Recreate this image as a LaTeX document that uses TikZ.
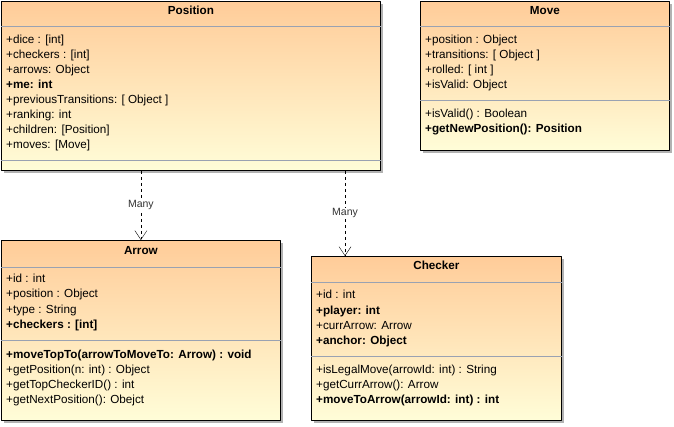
\documentclass[tikz,border=0pt]{standalone}
\usepackage{fontspec}
\setmainfont{Liberation Sans}
\usetikzlibrary{arrows.meta,shadows}
\definecolor{clstop}{HTML}{FFCC99}
\definecolor{clsbot}{HTML}{FFFDD8}
\definecolor{sepgrey}{HTML}{9AA2B2}
\tikzset{
	cls/.style={draw, line width=0.8pt, anchor=north west, inner sep=0pt, top color=clstop, bottom color=clsbot,
		drop shadow={shadow xshift=3pt, shadow yshift=-3pt, fill=black!30, opacity=1}},
	clsname/.style={anchor=base, font=\fontsize{11.7}{15}\selectfont\bfseries},
	member/.style={anchor=base west, inner sep=0pt},
	sep/.style={sepgrey, line width=0.8pt},
	many/.style={dash pattern=on 3pt off 3pt, -{Straight Barb[length=9pt,width=12pt]}},
	mult/.style={fill=white, text=black!80, font=\fontsize{10.5}{12}\selectfont, inner sep=1pt}
}
\begin{document}
\begin{tikzpicture}[x=1pt, y=-1pt, font=\fontsize{11.7}{15}\selectfont, line join=round]
	\useasboundingbox (0,0) rectangle (674,427);
	% Position
	\node[cls, minimum width=379pt, minimum height=169pt] (pos) at (1,1) {};
	\draw[sep] (pos.west |- 0,26) -- (pos.east |- 0,26);
	\draw[sep] (pos.west |- 0,160) -- (pos.east |- 0,160);
	\node[clsname] (posname) at (pos.north |- 0,15) {Position};
	\foreach \m [count=\i] in {+dice : [int], +checkers : [int], +arrows: Object, {\textbf{+me: int}},
		+previousTransitions: [ Object ], +ranking: int, +children: [Position], +moves: [Move]}
		\node[member] (posattr\i) at (6,29+15*\i) {\m};
	% Move
	\node[cls, minimum width=249pt, minimum height=149pt] (mov) at (420,1) {};
	\draw[sep] (mov.west |- 0,26) -- (mov.east |- 0,26);
	\draw[sep] (mov.west |- 0,100) -- (mov.east |- 0,100);
	\node[clsname] (movname) at (mov.north |- 0,15) {Move};
	\foreach \m [count=\i] in {+position : Object, +transitions: [ Object ], +rolled: [ int ], +isValid: Object}
		\node[member] (movattr\i) at (425,29+15*\i) {\m};
	\foreach \m [count=\i] in {+isValid() : Boolean, {\textbf{+getNewPosition(): Position}}}
		\node[member] (movop\i) at (425,103+15*\i) {\m};
	% Arrow
	\node[cls, minimum width=279pt, minimum height=180pt] (arw) at (1,240) {};
	\draw[sep] (arw.west |- 0,267) -- (arw.east |- 0,267);
	\draw[sep] (arw.west |- 0,340) -- (arw.east |- 0,340);
	\node[clsname] (arwname) at (arw.north |- 0,255) {Arrow};
	\foreach \m [count=\i] in {+id : int, +position : Object, +type : String, {\textbf{+checkers : [int]}}}
		\node[member] (arwattr\i) at (6,268+15*\i) {\m};
	\foreach \m [count=\i] in {{\textbf{+moveTopTo(arrowToMoveTo: Arrow) : void}}, +getPosition(n: int) : Object,
		+getTopCheckerID() : int, +getNextPosition(): Obejct}
		\node[member] (arwop\i) at (6,343+15*\i) {\m};
	% Checker
	\node[cls, minimum width=250pt, minimum height=164pt] (chk) at (311,256) {};
	\draw[sep] (chk.west |- 0,282) -- (chk.east |- 0,282);
	\draw[sep] (chk.west |- 0,356) -- (chk.east |- 0,356);
	\node[clsname] (chkname) at (chk.north |- 0,270) {Checker};
	\foreach \m [count=\i] in {+id : int, {\textbf{+player: int}}, +currArrow: Arrow, {\textbf{+anchor: Object}}}
		\node[member] (chkattr\i) at (316,284+15*\i) {\m};
	\foreach \m [count=\i] in {+isLegalMove(arrowId: int) : String, +getCurrArrow(): Arrow,
		{\textbf{+moveToArrow(arrowId: int) : int}}}
		\node[member] (chkop\i) at (316,358+15*\i) {\m};
	% links
	\coordinate (chkin) at (345,256);
	\draw[many] (arw.north |- pos.south) -- node[mult] (arwmany) {Many} (arw.north);
	\draw[many] (chkin |- pos.south) -- node[mult] (chkmany) {Many} (chkin);
\end{tikzpicture}
\end{document}
